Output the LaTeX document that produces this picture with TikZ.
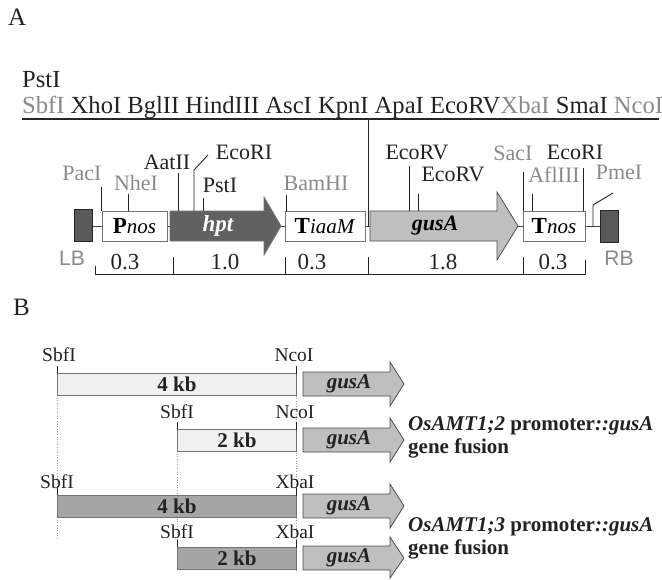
\documentclass[tikz,border=0pt]{standalone}
\usepackage{fontspec}
\setmainfont{Liberation Serif}
\newfontfamily\lsans{Liberation Sans}
\definecolor{lgray}{HTML}{8A8A8A}
\definecolor{dkl}{HTML}{222222}
\begin{document}
\begin{tikzpicture}[x=1pt,y=-1pt,
  lbl/.style={font=\fontsize{22}{22}\selectfont, inner sep=0pt, text=dkl},
  glbl/.style={lbl, text=lgray},
  blbl/.style={font=\fontsize{19.5}{19.5}\selectfont, inner sep=0pt, text=dkl},
  tickline/.style={draw=dkl, line width=0.9pt},
  numlbl/.style={font=\fontsize{23}{23}\selectfont, inner sep=0pt, text=dkl},
  sidelbl/.style={font=\lsans\fontsize{21}{21}\selectfont, inner sep=0pt, text=lgray},
  whitebox/.style={draw=black!55, fill=white, line width=0.8pt},
  border/.style={draw=black!85, fill=black!65, line width=0.8pt},
  boxtxt/.style={font=\fontsize{21}{21}\selectfont, inner sep=0pt},
  lightbar/.style={draw=black!55, fill=black!6, line width=0.8pt},
  darkbar/.style={draw=black!55, fill=black!35, line width=0.8pt},
  gusarrow/.style={draw=black!70, fill=black!25, line width=0.8pt},
  kbtxt/.style={font=\bfseries\fontsize{21}{21}\selectfont, inner sep=0pt, text=dkl},
  gustxt/.style={font=\bfseries\itshape\fontsize{21}{21}\selectfont, inner sep=0pt, text=dkl},
  fusion/.style={font=\bfseries\fontsize{21}{23}\selectfont, inner sep=0pt, text=dkl, anchor=base west},
  guide/.style={draw=black!40, dotted, line width=0.6pt},
  panel/.style={font=\fontsize{25}{25}\selectfont, inner sep=0pt, anchor=base west, text=dkl}]
\useasboundingbox (0,0) rectangle (662,579);

% ---------- Panel A ----------
\node[panel] (labA) at (8,25) {A};
\node[anchor=base west, inner sep=0pt, font=\fontsize{24.6}{24.6}\selectfont, text=dkl] (pst) at (22,87) {PstI};
\node[anchor=base west, inner sep=0pt, font=\fontsize{24.6}{24.6}\selectfont, text=dkl] (mcs) at (22,113)
  {\textcolor{lgray}{SbfI} XhoI BglII HindIII AscI KpnI ApaI EcoRV\textcolor{lgray}{XbaI} SmaI \textcolor{lgray}{NcoI}};
\coordinate (mcsL) at (22,119);
\coordinate (mcsR) at (659,119);
\coordinate (mcsJ) at (368,119);
\draw[line width=1.5pt, black!85] (mcsL) -- (mcsR);

% backbone
\coordinate (bbL) at (92,226);
\coordinate (bbR) at (600,226);
\coordinate (jn) at (368,226);
\draw[line width=1pt, black!75] (bbL) -- (bbR);
\draw[line width=1pt, black!85] (mcsJ) -- (jn);

% elements
\draw[border] (74,209) rectangle (92,241);
\node[inner sep=0pt] (lb) at (83,225) {};
\draw[whitebox] (102,211) rectangle (167,241);
\node[boxtxt] (pnos) at (134.5,226) {\textbf{\fontsize{23}{23}\selectfont P}\textit{nos}};
\draw[draw=black!55, fill=black!62, line width=0.8pt]
  (170,211) -- (264,211) -- (264,197) -- (281,226) -- (264,255) -- (264,241) -- (170,241) -- cycle;
\node[boxtxt, text=white, font=\bfseries\itshape\fontsize{23}{23}\selectfont] (hpt) at (218,226) {hpt};
\draw[whitebox] (285,211) rectangle (365,241);
\node[boxtxt] (tiaam) at (325,226) {\textbf{\fontsize{23}{23}\selectfont T}\textit{iaaM}};
\draw[gusarrow]
  (370,211) -- (497,211) -- (497,192) -- (518,226) -- (497,260) -- (497,241) -- (370,241) -- cycle;
\node[boxtxt, font=\bfseries\itshape\fontsize{22}{22}\selectfont] (gusa) at (435,226) {gusA};
\draw[whitebox] (523,211) rectangle (585,241);
\node[boxtxt] (tnos) at (554,226) {\textbf{\fontsize{23}{23}\selectfont T}\textit{nos}};
\draw[border] (600,210) rectangle (618,242);
\node[inner sep=0pt] (rb) at (609,226) {};

% restriction sites
\node[glbl] (pac) at (82,173) {PacI};
\draw[tickline] (101,187) -- (101,211);
\node[glbl] (nhe) at (136,183) {NheI};
\draw[tickline] (128,194) -- (128,211);
\node[lbl] (aat) at (167,162) {AatII};
\draw[tickline] (178,173) -- (178,211);
\node[lbl] (ecoL) at (244,152) {EcoRI};
\draw[tickline] (194,211) -- (194,170) -- (208,155);
\node[lbl] (pstL) at (220,185) {PstI};
\draw[tickline] (203,198) -- (203,211);
\node[glbl] (bam) at (316,183) {BamHI};
\draw[tickline] (286,195) -- (286,212);
\node[lbl] (ecv1) at (417,152) {EcoRV};
\draw[tickline] (409,166) -- (409,211);
\node[lbl] (ecv2) at (453,174) {EcoRV};
\draw[tickline] (418,194) -- (418,211);
\node[glbl] (sac) at (513,153) {SacI};
\draw[tickline] (523,172) -- (523,211);
\node[glbl] (afl) at (554,175) {AflIII};
\draw[tickline] (532,194) -- (532,211);
\node[lbl] (ecoR) at (575,152) {EcoRI};
\draw[tickline] (583,168) -- (583,211);
\node[glbl] (pme) at (619,172) {PmeI};
\draw[tickline] (593,226) -- (593,205) -- (613,193);

% LB / RB and scale
\node[sidelbl] (lbt) at (72,258) {LB};
\node[sidelbl] (rbt) at (619,258) {RB};
\draw[tickline] (95,266) -- (95,274) -- (585,274) -- (585,260);
\foreach \x in {173,285,368,523} \draw[tickline] (\x,257) -- (\x,274);
\node[numlbl] (s1) at (125,262) {0.3};
\node[numlbl] (s2) at (225,262) {1.0};
\node[numlbl] (s3) at (312,262) {0.3};
\node[numlbl] (s4) at (443,262) {1.8};
\node[numlbl] (s5) at (553,262) {0.3};

% ---------- Panel B ----------
\node[panel] (labB) at (13,315) {B};

% guides
\draw[guide] (57,395) -- (57,540);
\draw[guide] (177,451) -- (177,547);
\draw[guide] (296,367) -- (296,570);

% row 1
\node[blbl] (sb1) at (59,355) {SbfI};
\node[blbl] (nc1) at (294,355) {NcoI};
\draw[lightbar] (57,373) rectangle (296,395);
\draw[tickline] (57,366) -- (57,373);
\draw[tickline] (296,366) -- (296,374);
\node[kbtxt] (kb1) at (177,384) {4 kb};
\draw[gusarrow] (303,372) -- (390,372) -- (390,362) -- (404,384) -- (390,406) -- (390,396) -- (303,396) -- cycle;
\node[gustxt] (g1) at (349,384) {gusA};

% row 2
\node[blbl] (sb2) at (177,412) {SbfI};
\node[blbl] (nc2) at (295,412) {NcoI};
\draw[lightbar] (177,429) rectangle (296,451);
\draw[tickline] (177,422) -- (177,429);
\draw[tickline] (296,422) -- (296,430);
\node[kbtxt] (kb2) at (237,440) {2 kb};
\draw[gusarrow] (303,428) -- (390,428) -- (390,418) -- (404,440) -- (390,462) -- (390,452) -- (303,452) -- cycle;
\node[gustxt] (g2) at (349,440) {gusA};

\node[fusion] (f1) at (408,430) {\itshape OsAMT1;2\upshape\ promoter\itshape ::gusA};
\node[fusion] (f1b) at (408,453) {gene fusion};

% row 3
\node[blbl] (sb3) at (57,482) {SbfI};
\node[blbl] (xb3) at (295,482) {XbaI};
\draw[darkbar] (57,495) rectangle (296,517);
\draw[tickline] (57,488) -- (57,495);
\draw[tickline] (296,488) -- (296,496);
\node[kbtxt] (kb3) at (177,506) {4 kb};
\draw[gusarrow] (303,494) -- (390,494) -- (390,484) -- (404,506) -- (390,528) -- (390,518) -- (303,518) -- cycle;
\node[gustxt] (g3) at (349,506) {gusA};

% row 4
\node[blbl] (sb4) at (177,532) {SbfI};
\node[blbl] (xb4) at (295,532) {XbaI};
\draw[darkbar] (177,547) rectangle (296,569);
\draw[tickline] (177,540) -- (177,547);
\draw[tickline] (296,540) -- (296,548);
\node[kbtxt] (kb4) at (237,558) {2 kb};
\draw[gusarrow] (303,546) -- (390,546) -- (390,537) -- (404,558) -- (390,578) -- (390,570) -- (303,570) -- cycle;
\node[gustxt] (g4) at (349,558) {gusA};

\node[fusion] (f2) at (408,531) {\itshape OsAMT1;3\upshape\ promoter\itshape ::gusA};
\node[fusion] (f2b) at (408,554) {gene fusion};
\end{tikzpicture}
\end{document}
